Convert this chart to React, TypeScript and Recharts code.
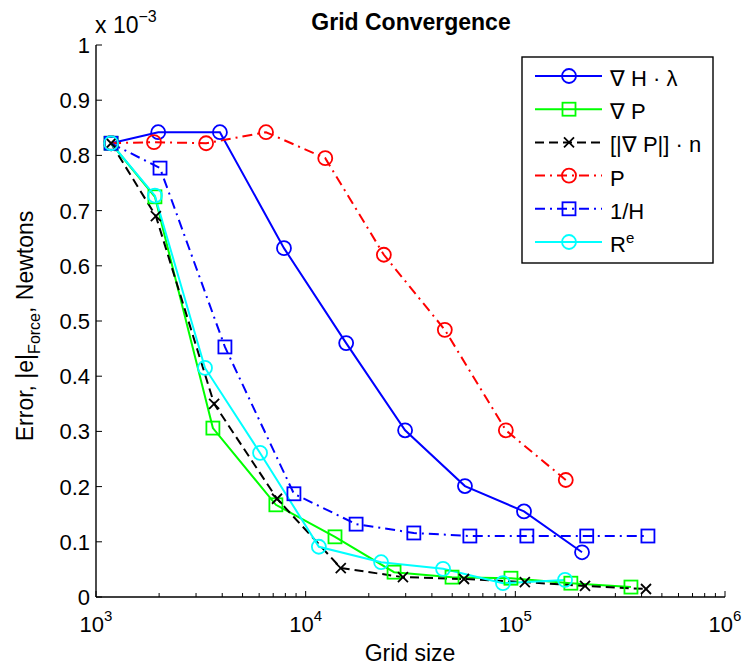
import React from "react";
import { LineChart, Line, XAxis, YAxis } from "recharts";

const FONT = "'Liberation Sans', Arial, Helvetica, sans-serif";

// grid sizes and errors (error in units of 1e-3 Newtons)
const gridHL = [1180, 1980, 3900, 7880, 15600, 29800, 57500, 110000, 208000];
const errHL = [0.822, 0.842, 0.842, 0.632, 0.46, 0.302, 0.201, 0.155, 0.081];

const gridGradP = [1180, 1910, 3610, 7210, 13800, 26400, 49900, 95300, 184000, 356000];
const errGradP = [0.822, 0.725, 0.306, 0.167, 0.109, 0.045, 0.036, 0.034, 0.025, 0.018];

const gridJump = [1180, 1930, 3660, 7300, 14700, 29100, 56900, 111000, 215000, 420000];
const errJump = [0.822, 0.69, 0.35, 0.178, 0.0525, 0.036, 0.0326, 0.027, 0.02, 0.0145];

const gridP = [1180, 1890, 3350, 6470, 12400, 23600, 46100, 90100, 174000];
const errP = [0.822, 0.824, 0.822, 0.842, 0.795, 0.62, 0.484, 0.302, 0.212];

const gridInvH = [1180, 2020, 4120, 8790, 17400, 32800, 60700, 113500, 219000, 429000];
const errInvH = [0.822, 0.777, 0.453, 0.187, 0.132, 0.116, 0.1105, 0.1105, 0.1105, 0.1105];

const gridRe = [1180, 1910, 3310, 6060, 11560, 22900, 45200, 87300, 172600];
const errRe = [0.822, 0.727, 0.415, 0.261, 0.091, 0.063, 0.051, 0.025, 0.031];

const majorX = [1e3, 1e4, 1e5, 1e6];
const xTicks = [
  1e3, 2e3, 3e3, 4e3, 5e3, 6e3, 7e3, 8e3, 9e3,
  1e4, 2e4, 3e4, 4e4, 5e4, 6e4, 7e4, 8e4, 9e4,
  1e5, 2e5, 3e5, 4e5, 5e5, 6e5, 7e5, 8e5, 9e5, 1e6,
];
const yTicks = [0, 0.1, 0.2, 0.3, 0.4, 0.5, 0.6, 0.7, 0.8, 0.9, 1];

type MarkerKind = "circle" | "square" | "cross";

const series = [
  { id: "hl", xs: gridHL, ys: errHL, color: "#0000ff", dash: undefined, marker: "circle" as MarkerKind },
  { id: "gradP", xs: gridGradP, ys: errGradP, color: "#00ff00", dash: undefined, marker: "square" as MarkerKind },
  { id: "jump", xs: gridJump, ys: errJump, color: "#000000", dash: "9 5", marker: "cross" as MarkerKind },
  { id: "p", xs: gridP, ys: errP, color: "#ff0000", dash: "10 5 2 5", marker: "circle" as MarkerKind },
  { id: "invH", xs: gridInvH, ys: errInvH, color: "#0000ff", dash: "10 5 2 5", marker: "square" as MarkerKind },
  { id: "re", xs: gridRe, ys: errRe, color: "#00ffff", dash: undefined, marker: "circle" as MarkerKind },
];

function Marker({ kind, cx, cy, color }: { kind: MarkerKind; cx: number; cy: number; color: string }) {
  if (kind === "circle") {
    return <circle cx={cx} cy={cy} r={7} fill="none" stroke={color} strokeWidth={1.8} />;
  }
  if (kind === "square") {
    return <rect x={cx - 6.5} y={cy - 6.5} width={13} height={13} fill="none" stroke={color} strokeWidth={1.8} />;
  }
  return (
    <g stroke={color} strokeWidth={1.8}>
      <line x1={cx - 5} y1={cy - 5} x2={cx + 5} y2={cy + 5} />
      <line x1={cx - 5} y1={cy + 5} x2={cx + 5} y2={cy - 5} />
    </g>
  );
}

const isMajor = (v: number) => majorX.includes(v);

function BottomTick(props: any) {
  const { x, y, payload } = props;
  const v = payload.value as number;
  const major = isMajor(v);
  return (
    <g>
      <line x1={x} y1={y} x2={x} y2={y - (major ? 6 : 4)} stroke="#000" />
      {major && (
        <text x={x} y={y + 35} textAnchor="middle" fontSize={22} fontFamily={FONT} fill="#000">
          10
          <tspan dy={-11} fontSize={15}>{Math.round(Math.log10(v))}</tspan>
        </text>
      )}
    </g>
  );
}

function TopTick(props: any) {
  const { x, y, payload } = props;
  const major = isMajor(payload.value);
  return <line x1={x} y1={y} x2={x} y2={y + (major ? 6 : 4)} stroke="#000" />;
}

function LeftTick(props: any) {
  const { x, y, payload } = props;
  return (
    <g>
      <line x1={x} y1={y} x2={x + 6} y2={y} stroke="#000" />
      <text x={x - 6} y={y + 8} textAnchor="end" fontSize={22} fontFamily={FONT} fill="#000">
        {String(payload.value)}
      </text>
    </g>
  );
}

function RightTick(props: any) {
  const { x, y } = props;
  return <line x1={x} y1={y} x2={x - 6} y2={y} stroke="#000" />;
}

const legendRows = [
  { s: 0, text: <>∇ H · λ</> },
  { s: 1, text: <>∇ P</> },
  { s: 2, text: <>[|∇ P|] · n</> },
  { s: 3, text: <>P</> },
  { s: 4, text: <>1/H</> },
  { s: 5, text: <>R<tspan dy={-9} fontSize={15}>e</tspan></> },
];

export default function App() {
  return (
    <div style={{ position: "absolute", left: 0, top: 0, width: 743, height: 668, background: "#fff" }}>
      <LineChart width={743} height={668} margin={{ top: 45, right: 18, bottom: 31, left: 36 }}>
        <XAxis
          dataKey="grid"
          type="number"
          scale="log"
          domain={[1000, 1000000]}
          allowDataOverflow
          ticks={xTicks}
          interval={0}
          tick={<BottomTick />}
          tickLine={false}
          tickSize={0}
          tickMargin={0}
          height={40}
          axisLine={{ stroke: "#000", strokeWidth: 1.4 }}
        />
        <XAxis
          xAxisId="top"
          orientation="top"
          dataKey="grid"
          type="number"
          scale="log"
          domain={[1000, 1000000]}
          allowDataOverflow
          ticks={xTicks}
          interval={0}
          tick={<TopTick />}
          tickLine={false}
          tickSize={0}
          tickMargin={0}
          height={0}
          axisLine={{ stroke: "#000", strokeWidth: 1.4 }}
        />
        <YAxis
          type="number"
          domain={[0, 1]}
          ticks={yTicks}
          interval={0}
          tick={<LeftTick />}
          tickLine={false}
          tickSize={0}
          tickMargin={0}
          width={60}
          axisLine={{ stroke: "#000", strokeWidth: 1.4 }}
        />
        <YAxis
          yAxisId="right"
          orientation="right"
          type="number"
          domain={[0, 1]}
          ticks={yTicks}
          interval={0}
          tick={<RightTick />}
          tickLine={false}
          tickSize={0}
          tickMargin={0}
          width={0}
          axisLine={{ stroke: "#000", strokeWidth: 1.4 }}
        />
        {series.map((s) => (
          <Line
            key={s.id}
            data={s.xs.map((g, i) => ({ grid: g, err: s.ys[i] }))}
            dataKey="err"
            type="linear"
            stroke={s.color}
            strokeWidth={2}
            strokeDasharray={s.dash}
            isAnimationActive={false}
            dot={(p: any) => (
              <Marker key={`${s.id}-${p.index}`} kind={s.marker} cx={p.cx} cy={p.cy} color={s.color} />
            )}
            activeDot={false}
          />
        ))}
      </LineChart>
      <svg
        width={743}
        height={668}
        style={{ position: "absolute", left: 0, top: 0, pointerEvents: "none" }}
        fontFamily={FONT}
      >
        <text x={411} y={30} textAnchor="middle" fontSize={23} fontWeight="bold">
          Grid Convergence
        </text>
        <text x={95} y={33} fontSize={23}>
          x 10<tspan dy={-11} fontSize={16}>−3</tspan>
        </text>
        <text x={410} y={661} textAnchor="middle" fontSize={23}>
          Grid size
        </text>
        <text transform="translate(33,326) rotate(-90)" textAnchor="middle" fontSize={23}>
          Error, |e|<tspan dy={7} fontSize={16}>Force</tspan>
          <tspan dy={-7}>, Newtons</tspan>
        </text>
        <rect x={522} y={57} width={191} height={206} fill="#fff" stroke="#000" strokeWidth={1.4} />
        {legendRows.map((r, i) => {
          const s = series[r.s];
          const cy = 76 + i * 33.2;
          return (
            <g key={s.id}>
              <line x1={535} y1={cy} x2={602} y2={cy} stroke={s.color} strokeWidth={2} strokeDasharray={s.dash} />
              <Marker kind={s.marker} cx={569} cy={cy} color={s.color} />
              <text x={610} y={cy + 10} fontSize={22}>
                {r.text}
              </text>
            </g>
          );
        })}
      </svg>
    </div>
  );
}
